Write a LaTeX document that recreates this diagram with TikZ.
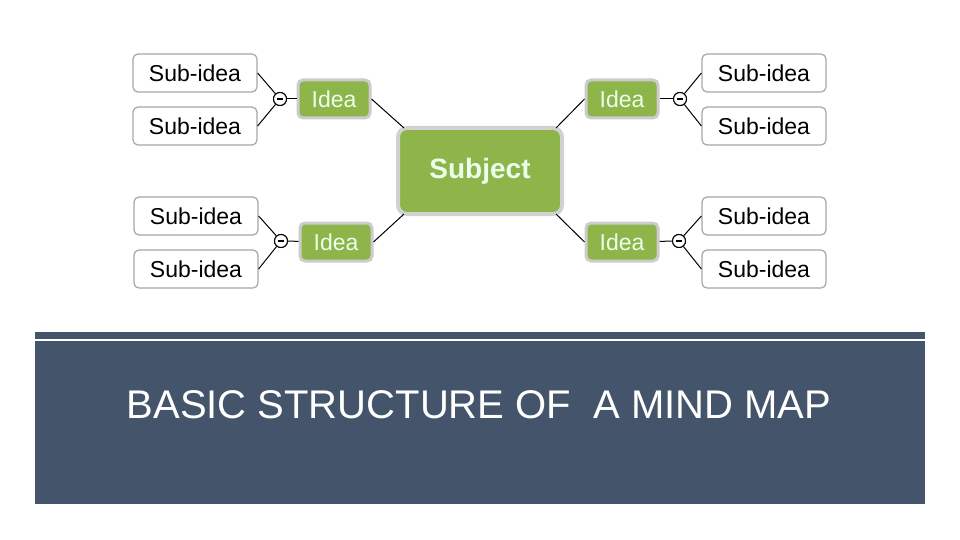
\documentclass[tikz,border=0pt]{standalone}
\usepackage{fontspec}
\usetikzlibrary{calc}
\setmainfont{Liberation Sans}
\begin{document}
\begin{tikzpicture}[x=1pt,y=-1pt,
  sub/.style={draw=black!35,line width=1.2pt,rounded corners=5pt,fill=white,minimum width=124pt,minimum height=38pt,font=\fontsize{23}{25}\selectfont,inner sep=0pt},
  idea/.style={draw=black!20,line width=3pt,rounded corners=5pt,fill=ideagreen,text=white!92!green,minimum width=72pt,minimum height=38pt,font=\fontsize{23}{25}\selectfont,inner sep=0pt},
  knob/.style={circle,draw=black,line width=1pt,fill=white,minimum size=13pt,inner sep=0pt},
  con/.style={line width=1pt}]
\definecolor{ideagreen}{HTML}{8DB54A}
\definecolor{banner}{HTML}{44546A}
\useasboundingbox (0,0) rectangle (960,540);
\fill[white] (0,0) rectangle (960,540);
% banner
\fill[banner] (35,332) rectangle (925,504);
\draw[white,line width=2pt] (35,340) -- (925,340);
\node[text=white,font=\fontsize{40}{44}\selectfont,anchor=center] (title) at (479,405) {BASIC STRUCTURE OF\ \ A MIND MAP};
% subject
\node[draw=black!18,line width=4pt,rounded corners=9pt,fill=ideagreen,text=white!92!green,minimum width=164pt,minimum height=86pt,font=\bfseries\fontsize{28}{32}\selectfont] (subj) at (480,171) {Subject};
% ideas
\node[idea] (i1) at (334,99) {Idea};
\node[idea] (i2) at (622,99) {Idea};
\node[idea] (i3) at (336,242) {Idea};
\node[idea] (i4) at (622,242) {Idea};
% knobs
\node[knob] (k1) at (280,99) {};
\node[knob] (k2) at (680,99) {};
\node[knob] (k3) at (281,241) {};
\node[knob] (k4) at (679,241) {};
% sub ideas
\node[sub] (s1) at (195,73) {Sub-idea};
\node[sub] (s2) at (195,126) {Sub-idea};
\node[sub] (s3) at (196,216) {Sub-idea};
\node[sub] (s4) at (196,269) {Sub-idea};
\node[sub] (s5) at (764,73) {Sub-idea};
\node[sub] (s6) at (764,126) {Sub-idea};
\node[sub] (s7) at (764,216) {Sub-idea};
\node[sub] (s8) at (764,269) {Sub-idea};
% connectors
\draw[con] (subj.north west) ++(8,2) coordinate (c1) -- (i1.east);
\draw[con] (subj.north east) ++(-8,2) coordinate (c2) -- (i2.west);
\draw[con] (subj.south west) ++(8,-2) coordinate (c3) -- (i3.east);
\draw[con] (subj.south east) ++(-8,-2) coordinate (c4) -- (i4.west);
\draw[con] (k1) -- (i1); \draw[con] (k2) -- (i2);
\draw[con] (k3) -- (i3); \draw[con] (k4) -- (i4);
\draw[con] (s1.east) -- (k1); \draw[con] (s2.east) -- (k1);
\draw[con] (s3.east) -- (k3); \draw[con] (s4.east) -- (k3);
\draw[con] (s5.west) -- (k2); \draw[con] (s6.west) -- (k2);
\draw[con] (s7.west) -- (k4); \draw[con] (s8.west) -- (k4);
\foreach \k in {k1,k2,k3,k4} {\node[knob] at (\k) {}; \draw[line width=1.6pt] ($(\k)+(-3,0)$) -- ($(\k)+(3,0)$);}
\end{tikzpicture}
\end{document}
